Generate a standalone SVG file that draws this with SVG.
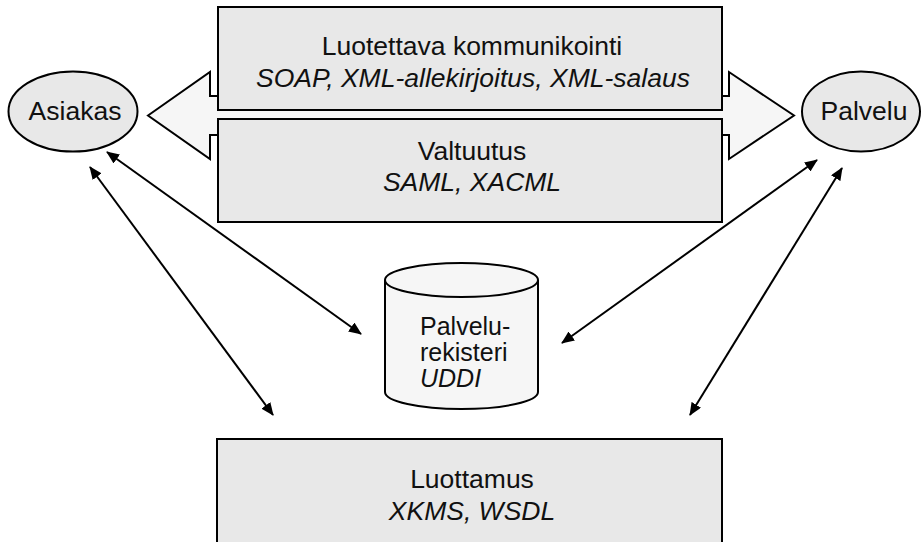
<svg xmlns="http://www.w3.org/2000/svg" width="924" height="542" viewBox="0 0 924 542">
  <style>
    .box { fill: #e8e8e8; stroke: #000; stroke-width: 2; }
    .pale { fill: #f6f6f6; stroke: #000; stroke-width: 2; }
    .conn { fill: none; stroke: #000; stroke-width: 2; marker-start: url(#head); marker-end: url(#head); }
    text { font-family: "Liberation Sans", Arial, sans-serif; font-size: 26.5px; fill: #111; }
    .mid { text-anchor: middle; }
    .it { font-style: italic; }
    .db { font-size: 25px; }
  </style>
  <defs>
    <marker id="head" viewBox="0 0 13 11" refX="12" refY="5.5" markerWidth="13" markerHeight="11" markerUnits="userSpaceOnUse" orient="auto-start-reverse">
      <path d="M0,0 L13,5.5 L0,11 Z" fill="#000"/>
    </marker>
  </defs>

  <!-- wide two-way arrow behind the protocol boxes -->
  <g id="channel">
    <path class="pale" d="M148,115.5 L210,72 L210,96 L729,96 L729,72 L794,115.5 L729,159 L729,135 L210,135 L210,159 Z"/>
  </g>

  <g id="luotettava">
    <rect class="box" x="218" y="7" width="504" height="103"/>
    <text class="mid" x="472" y="55">Luotettava kommunikointi</text>
    <text class="mid it" x="473" y="87">SOAP, XML-allekirjoitus, XML-salaus</text>
  </g>

  <g id="valtuutus">
    <rect class="box" x="218" y="119" width="504" height="103"/>
    <text class="mid" x="472" y="160">Valtuutus</text>
    <text class="mid it" x="472" y="191">SAML, XACML</text>
  </g>

  <g id="asiakas">
    <ellipse class="box" cx="73" cy="111.5" rx="64.5" ry="40"/>
    <text class="mid" x="75" y="120">Asiakas</text>
  </g>

  <g id="palvelu">
    <ellipse class="box" cx="861" cy="111.5" rx="59" ry="40"/>
    <text class="mid" x="864" y="120">Palvelu</text>
  </g>

  <g id="rekisteri">
    <path class="pale" d="M385,280 L385,392 A76.5,17 0 0 0 538,392 L538,280"/>
    <ellipse class="pale" cx="461.5" cy="280" rx="76.5" ry="17"/>
    <text class="db" x="420" y="335">Palvelu-</text>
    <text class="db" x="420" y="361">rekisteri</text>
    <text class="db it" x="420" y="387">UDDI</text>
  </g>

  <g id="luottamus">
    <rect class="box" x="217" y="439" width="505" height="130"/>
    <text class="mid" x="472" y="488">Luottamus</text>
    <text class="mid it" x="472" y="520">XKMS, WSDL</text>
  </g>

  <g id="connectors">
    <line class="conn" x1="107" y1="152" x2="361" y2="334"/>
    <line class="conn" x1="90" y1="167" x2="273" y2="415"/>
    <line class="conn" x1="817" y1="160" x2="562" y2="343"/>
    <line class="conn" x1="842" y1="168" x2="690" y2="415"/>
  </g>
</svg>
